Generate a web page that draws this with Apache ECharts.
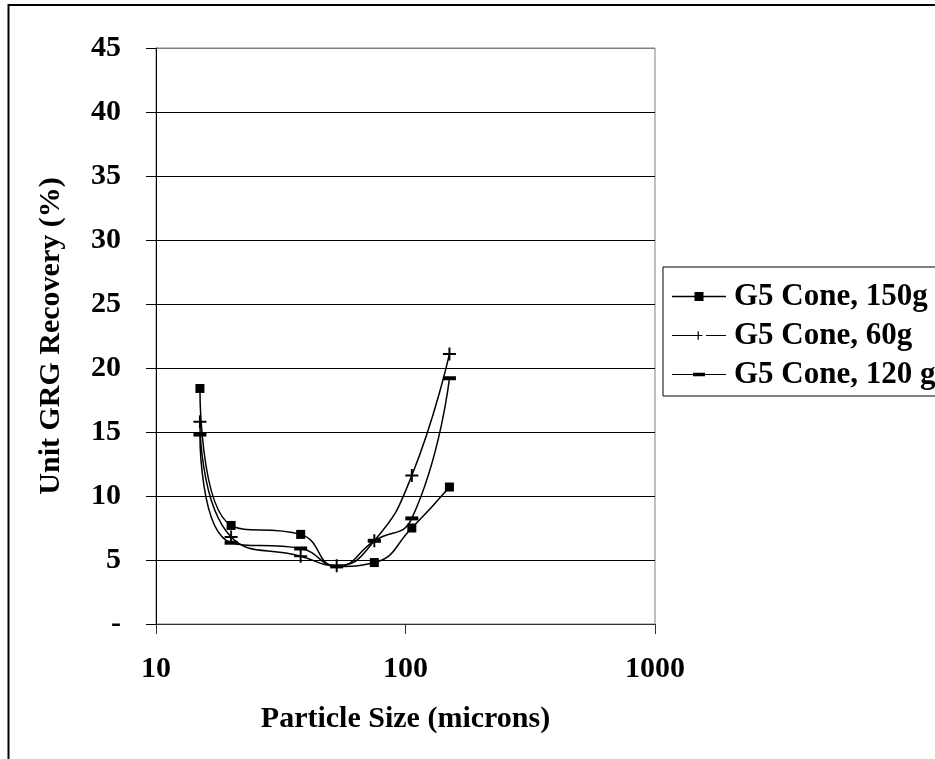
<!DOCTYPE html>
<html>
<head>
<meta charset="utf-8">
<script src="https://cdn.jsdelivr.net/npm/echarts@6/dist/echarts.min.js"></script>
<style>
html,body{margin:0;padding:0;background:#fff;}
#chart{width:935px;height:759px;}
</style>
</head>
<body>
<div id="chart"></div>
<script>
// Particle sizes (microns)
const sizes = [15, 20, 38, 53, 75, 106, 150];
// Unit GRG recovery (%)
const cone150 = [18.4, 7.7, 7.0, 4.5, 4.8, 7.5, 10.7];
const cone60 = [15.8, 6.8, 5.3, 4.55, 6.5, 11.6, 21.1];
const cone120 = [14.8, 6.35, 5.9, 4.5, 6.5, 8.25, 19.2];
const seriesNames = ['G5 Cone, 150g', 'G5 Cone, 60g', 'G5 Cone, 120 g'];
// marker hidden under the 60g marker in the original
const hidden150 = [53];

const FONT = 'Liberation Serif';
const plusPath = 'path://M5.1,0H6.9V5.1H12V6.9H6.9V12H5.1V6.9H0V5.1H5.1Z';

function pairs(vals, hide) {
  return sizes.map((s, i) => {
    if (hide && hide.indexOf(s) >= 0) return {value: [s, vals[i]], symbol: 'none'};
    return [s, vals[i]];
  });
}

// Legend icons (line + marker), 54 x 12 boxes
const icon150 = 'path://M0,5.3H54V6.7H0Z M22.5,1.5H31.5V10.5H22.5Z M0,0L0.01,0 M0,12L0.01,12';
const icon60 = 'path://M0,5.4H22V6.6H0Z M22,5.4H30.5V6.6H22Z M25.6,1.8H26.8V10.2H25.6Z M34,5.4H54V6.6H34Z M0,0L0.01,0 M0,12L0.01,12';
const icon120 = 'path://M0,5.4H54V6.6H0Z M21,4.2H33V7.8H21Z M0,0L0.01,0 M0,12L0.01,12';

const chart = echarts.init(document.getElementById('chart'), null, {renderer: 'canvas'});
const lineStyle = {color: '#000', width: 1.5};
chart.setOption({
  animation: false,
  backgroundColor: '#fff',
  textStyle: {fontFamily: FONT},
  graphic: [{
    type: 'rect',
    shape: {x: 8.5, y: 5, width: 1000, height: 800},
    style: {fill: 'none', stroke: '#000', lineWidth: 2},
    silent: true
  }],
  grid: {
    left: 156, top: 48, right: 280, bottom: 135,
    show: true, borderColor: '#808080', borderWidth: 1, backgroundColor: 'transparent'
  },
  legend: {
    orient: 'vertical',
    left: 663, top: 267,
    borderColor: '#000', borderWidth: 1,
    padding: [14, 10, 6, 9],
    itemGap: 8,
    itemWidth: 54, itemHeight: 12,
    textStyle: {fontFamily: FONT, fontWeight: 'bold', fontSize: 31, color: '#000', lineHeight: 30, padding: [0, 0, 0, 3]},
    data: [
      {name: seriesNames[0], icon: icon150},
      {name: seriesNames[1], icon: icon60},
      {name: seriesNames[2], icon: icon120}
    ],
    selectedMode: false
  },
  xAxis: {
    type: 'log', logBase: 10, min: 10, max: 1000,
    name: 'Particle Size (microns)',
    nameLocation: 'middle', nameGap: 80,
    nameTextStyle: {fontFamily: FONT, fontWeight: 'bold', fontSize: 30, color: '#000'},
    axisLine: {show: true, onZero: false, lineStyle: {color: '#333', width: 1}},
    axisTick: {show: true, inside: false, length: 10, lineStyle: {color: '#333'}},
    minorTick: {show: false},
    splitLine: {show: false},
    axisLabel: {fontFamily: FONT, fontWeight: 'bold', fontSize: 30, color: '#000', margin: 30,
      formatter: v => String(Math.round(v))}
  },
  yAxis: {
    type: 'value', min: 0, max: 45, interval: 5,
    name: 'Unit GRG Recovery (%)',
    nameLocation: 'middle', nameGap: 90, nameRotate: 90,
    nameTextStyle: {fontFamily: FONT, fontWeight: 'bold', fontSize: 30, color: '#000'},
    axisLine: {show: true, lineStyle: {color: '#000', width: 1}},
    axisTick: {show: true, inside: false, length: 10, lineStyle: {color: '#000'}},
    splitLine: {show: true, lineStyle: {color: ['#808080', '#000', '#000', '#000', '#000', '#000', '#000', '#000', '#000', '#808080'], width: 1}},
    axisLabel: {
      fontFamily: FONT, fontWeight: 'bold', fontSize: 30, color: '#000', margin: 35,
      formatter: v => (v === 0 ? '-' : String(v))
    }
  },
  series: [
    {
      name: seriesNames[0], type: 'line', smooth: true,
      data: pairs(cone150, hidden150),
      symbol: 'rect', symbolSize: 9,
      itemStyle: {color: '#000'}, lineStyle: lineStyle
    },
    {
      name: seriesNames[1], type: 'line', smooth: true,
      data: pairs(cone60),
      symbol: plusPath, symbolSize: 13,
      itemStyle: {color: '#000'}, lineStyle: lineStyle
    },
    {
      name: seriesNames[2], type: 'line', smooth: true,
      data: pairs(cone120),
      symbol: 'rect', symbolSize: [13, 4],
      itemStyle: {color: '#000'}, lineStyle: lineStyle
    }
  ]
});
</script>
</body>
</html>
